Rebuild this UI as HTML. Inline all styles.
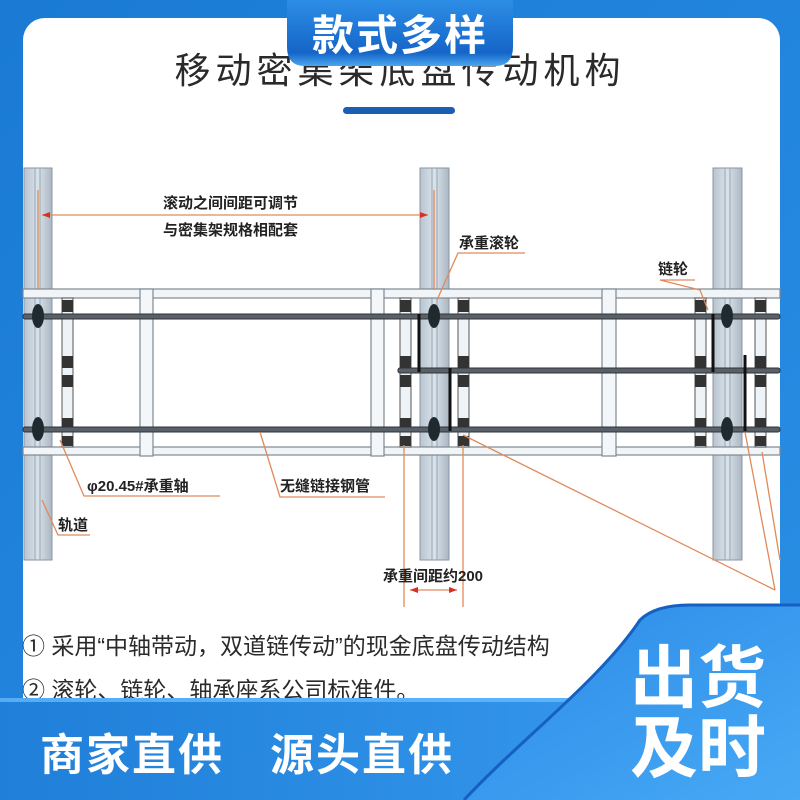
<!DOCTYPE html>
<html><head><meta charset="utf-8"><style>
html,body{margin:0;padding:0;}
body{width:800px;height:800px;overflow:hidden;background:#1b7fd8;}
svg{display:block;}
text{font-family:"Liberation Sans","Noto Sans CJK SC",sans-serif;}
</style></head><body>
<svg width="800" height="800" viewBox="0 0 800 800" xmlns="http://www.w3.org/2000/svg">
<defs>
<linearGradient id="bg" x1="0" y1="0" x2="1" y2="1"><stop offset="0" stop-color="#1a7ad4"/><stop offset="1" stop-color="#2a8fe6"/></linearGradient>
<linearGradient id="tab" x1="0" y1="0" x2="0" y2="1"><stop offset="0" stop-color="#2d8ee6"/><stop offset="0.8" stop-color="#1565c8"/><stop offset="1" stop-color="#4aa6f0"/></linearGradient>
<linearGradient id="band" x1="0" y1="0" x2="1" y2="0"><stop offset="0" stop-color="#1f7fd9"/><stop offset="1" stop-color="#3a9cf0"/></linearGradient>
<linearGradient id="panel" x1="0" y1="0" x2="1" y2="1"><stop offset="0" stop-color="#2a8ae6"/><stop offset="1" stop-color="#47a9f5"/></linearGradient>
<linearGradient id="post" x1="0" y1="0" x2="1" y2="0"><stop offset="0" stop-color="#b9c4cf"/><stop offset="0.5" stop-color="#d8e2ea"/><stop offset="1" stop-color="#aab6c2"/></linearGradient>
<g id="rc">
<rect x="0" y="298" width="11" height="149" fill="#eef3f7" stroke="#555" stroke-width="1"/>
<rect x="0" y="300" width="11" height="12" fill="#333"/>
<rect x="0" y="356" width="11" height="12" fill="#333"/>
<rect x="0" y="375" width="11" height="12" fill="#333"/>
<rect x="0" y="418" width="11" height="12" fill="#333"/>
<rect x="0" y="436" width="11" height="10" fill="#333"/>
</g>
</defs>
<rect width="800" height="800" fill="url(#bg)"/>
<rect x="23" y="18" width="757" height="720" rx="22" fill="#fff"/>

<!-- title -->
<text x="400" y="83" font-size="36" fill="#2a2a2a" text-anchor="middle" letter-spacing="5">移动密集架底盘传动机构</text>
<rect x="343" y="107" width="112" height="7" rx="3.5" fill="#1a5fb4"/>

<!-- posts -->
<g stroke="#8a96a2" stroke-width="1">
<rect x="24" y="168" width="28" height="392" fill="url(#post)"/>
<rect x="420" y="168" width="29" height="392" fill="url(#post)"/>
<rect x="713" y="168" width="29" height="392" fill="url(#post)"/>
</g>
<g stroke="#9aa6b2" stroke-width="1">
<line x1="35" y1="168" x2="35" y2="560"/><line x1="40" y1="168" x2="40" y2="560"/>
<line x1="432" y1="168" x2="432" y2="560"/><line x1="437" y1="168" x2="437" y2="560"/>
<line x1="725" y1="168" x2="725" y2="560"/><line x1="730" y1="168" x2="730" y2="560"/>
</g>

<!-- beams -->
<g fill="#f2f5f8" stroke="#7d8893" stroke-width="1.2">
<rect x="23" y="289" width="757" height="9"/>
<rect x="23" y="447" width="757" height="8"/>
</g>
<g fill="#f4f7fa" stroke="#7d8893" stroke-width="1.2">
<rect x="140" y="289" width="13" height="167"/>
<rect x="371" y="289" width="13" height="167"/>
<rect x="602" y="289" width="14" height="167"/>
</g>
<use href="#rc" x="62"/><use href="#rc" x="400"/><use href="#rc" x="458"/><use href="#rc" x="695"/><use href="#rc" x="755"/>
<!-- shafts -->
<g fill="#5a6068" stroke="#2e3338" stroke-width="1">
<rect x="23" y="314" width="757" height="5" rx="2"/>
<rect x="23" y="427" width="757" height="5" rx="2"/>
<rect x="398" y="368" width="382" height="5" rx="2"/>
</g>
<g fill="#1f2a30">
<ellipse cx="38" cy="316" rx="6" ry="12"/><ellipse cx="38" cy="429" rx="6" ry="12"/>
<ellipse cx="434" cy="316" rx="6" ry="12"/><ellipse cx="434" cy="429" rx="6" ry="12"/>
<ellipse cx="727" cy="316" rx="6" ry="12"/><ellipse cx="727" cy="429" rx="6" ry="12"/>
</g>
<g stroke="#111" stroke-width="3">
<line x1="419" y1="314" x2="419" y2="372"/><line x1="450" y1="368" x2="450" y2="431"/>
<line x1="713" y1="314" x2="713" y2="372"/><line x1="745" y1="355" x2="745" y2="431"/>
</g>

<!-- orange annotations -->
<g stroke="#e08a5a" stroke-width="1.3" fill="none">
<line x1="38" y1="190" x2="38" y2="290"/><line x1="434" y1="190" x2="434" y2="290"/>
<line x1="42" y1="215" x2="428" y2="215"/>
<polyline points="525,253 458,253 437,300"/>
<polyline points="695,280 660,280 700,290 708,310"/>
<polyline points="220,496 84,496 60,440"/>
<polyline points="385,497 280,497 260,432"/>
<polyline points="90,535 58,535 42,500"/>
<line x1="404" y1="445" x2="404" y2="607"/><line x1="463" y1="445" x2="463" y2="607"/>
<line x1="410" y1="590" x2="457" y2="590"/>
<line x1="463" y1="435" x2="775" y2="590"/>
<line x1="745" y1="432" x2="775" y2="590"/>
<line x1="762" y1="452" x2="780" y2="560"/>
</g>
<g fill="#d83020">
<polygon points="42,215 50,212 50,218"/><polygon points="428,215 420,212 420,218"/>
<polygon points="410,590 418,587 418,593"/><polygon points="457,590 449,587 449,593"/>
</g>
<g font-size="15" font-weight="bold" fill="#222">
<text x="163" y="208">滚动之间间距可调节</text>
<text x="163" y="235">与密集架规格相配套</text>
<text x="459" y="248">承重滚轮</text>
<text x="658" y="274">链轮</text>
<text x="87" y="491">φ20.45#承重轴</text>
<text x="280" y="491">无缝链接钢管</text>
<text x="58" y="530">轨道</text>
<text x="383" y="581">承重间距约200</text>
</g>

<g font-size="23" fill="#2a2a2a">
<text x="22" y="654">① 采用“中轴带动，双道链传动”的现金底盘传动结构</text>
<text x="22" y="698">② 滚轮、链轮、轴承座系公司标准件。</text>
</g>

<rect x="0" y="698" width="800" height="102" fill="url(#band)"/>
<rect x="0" y="698" width="800" height="4" fill="#6fc0ff" opacity="0.7"/>
<text x="40" y="770" font-size="44" font-weight="bold" fill="#fff" letter-spacing="2">商家直供</text>
<text x="270" y="770" font-size="44" font-weight="bold" fill="#fff" letter-spacing="2">源头直供</text>

<path d="M464,800 C520,740 600,680 640,620 Q655,605 690,605 L800,605 L800,800 Z" fill="url(#panel)"/>
<path d="M464,800 C520,740 600,680 640,620 Q655,605 690,605 L800,605" fill="none" stroke="#1560c0" stroke-width="3"/>
<g font-size="68" font-weight="bold" fill="#fff">
<text x="630" y="702">出货</text>
<text x="630" y="772">及时</text>
</g>

<path d="M287,0 L513,0 L513,47 Q513,66 495,66 L305,66 Q287,66 287,47 Z" fill="url(#tab)"/>
<text x="400" y="50" font-size="42" font-weight="bold" fill="#fff" text-anchor="middle" letter-spacing="2">款式多样</text>
</svg>
</body></html>
